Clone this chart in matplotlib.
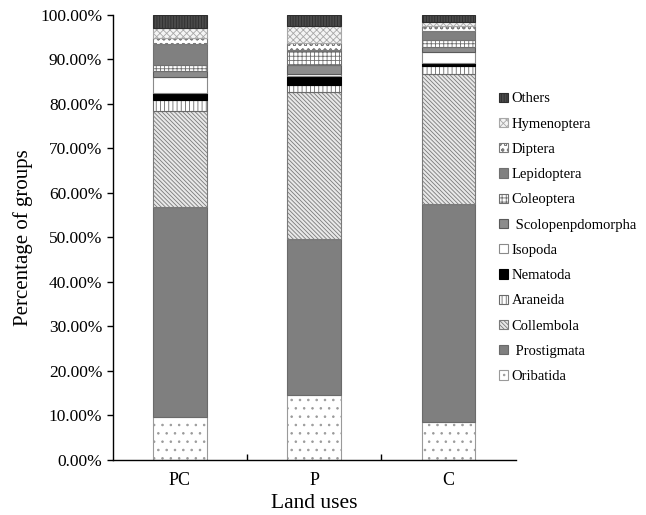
import matplotlib.pyplot as plt
import numpy as np
from matplotlib.ticker import FuncFormatter

plt.rcParams["font.family"] = ["Liberation Serif", "DejaVu Serif"]
plt.rcParams["hatch.linewidth"] = 0.6

land_uses = ["PC", "P", "C"]

# bottom to top of each stack
groups = [
    "Oribatida", " Prostigmata", "Collembola", "Araneida", "Nematoda", "Isopoda",
    " Scolopenpdomorpha", "Coleoptera", "Lepidoptera", "Diptera", "Hymenoptera", "Others",
]

oribatida = [9.7, 14.6, 8.5]
prostigmata = [47.2, 34.9, 48.9]
collembola = [21.5, 33.2, 29.2]
araneida = [2.4, 1.5, 1.9]
nematoda = [1.5, 2.0, 0.7]
isopoda = [3.7, 0.4, 2.3]
scolopendromorpha = [1.3, 2.1, 1.1]
coleoptera = [1.3, 3.0, 1.7]
lepidoptera = [4.8, 0.4, 2.1]
diptera = [1.3, 1.5, 1.0]
hymenoptera = [2.3, 3.8, 1.0]
others = [3.0, 2.6, 1.6]

series = [oribatida, prostigmata, collembola, araneida, nematoda, isopoda,
          scolopendromorpha, coleoptera, lepidoptera, diptera, hymenoptera, others]

# (facecolor, edgecolor/hatch colour, hatch)
styles = [
    ("white", "#9a9a9a", ".."),
    ("#7f7f7f", "#6a6a6a", None),
    ("#e8e8e8", "#7a7a7a", "\\" * 8),
    ("white", "#6a6a6a", "||||"),
    ("black", "black", None),
    ("white", "#8a8a8a", None),
    ("#8c8c8c", "#5a5a5a", None),
    ("white", "#6f6f6f", "++++"),
    ("#808080", "#707070", None),
    ("white", "#7a7a7a", "ooo"),
    ("#f4f4f4", "#a8a8a8", "xxxxx"),
    ("#4a4a4a", "#2e2e2e", "||||||"),
]

fig = plt.figure(figsize=(6.46, 5.15), dpi=100)
ax = fig.add_axes([0.1745, 0.1068, 0.6235, 0.865])

x = np.arange(len(land_uses))
bottom = np.zeros(len(land_uses))
handles = []
for name, vals, (fc, ec, hatch) in zip(groups, series, styles):
    vals = np.array(vals) / 100.0
    bars = ax.bar(x, vals, 0.4, bottom=bottom, color=fc, edgecolor=ec,
                  hatch=hatch, linewidth=0.8, label=name)
    bottom += vals
    handles.append(bars)

ax.set_xlim(-0.5, 2.5)
ax.set_ylim(0, 1.0)
ax.set_yticks(np.arange(0, 1.01, 0.1))
ax.yaxis.set_major_formatter(FuncFormatter(lambda v, _: f"{v * 100:.2f}%"))
ax.set_xticks(x)
ax.set_xticklabels(land_uses)
ax.set_xticks([0.5, 1.5], minor=True)
ax.tick_params(axis="x", which="major", length=0, labelsize=13, pad=9)
ax.tick_params(axis="x", which="minor", direction="in", length=4, width=1)
ax.tick_params(axis="y", direction="out", length=4, width=1, labelsize=12.5)
for side in ("top", "right"):
    ax.spines[side].set_visible(False)
for side in ("left", "bottom"):
    ax.spines[side].set_linewidth(1.0)

ax.set_ylabel("Percentage of groups", fontsize=15, labelpad=5)
ax.set_xlabel("Land uses", fontsize=15.5, labelpad=3)

fig.legend(handles[::-1], [h.get_label() for h in handles[::-1]],
           loc="upper left", bbox_to_anchor=(0.764, 0.832), frameon=False,
           fontsize=10.5, handlelength=0.6, handleheight=0.6, handletextpad=0.25,
           labelspacing=0.84, borderaxespad=0)

fig.savefig("out.png", dpi=100)
